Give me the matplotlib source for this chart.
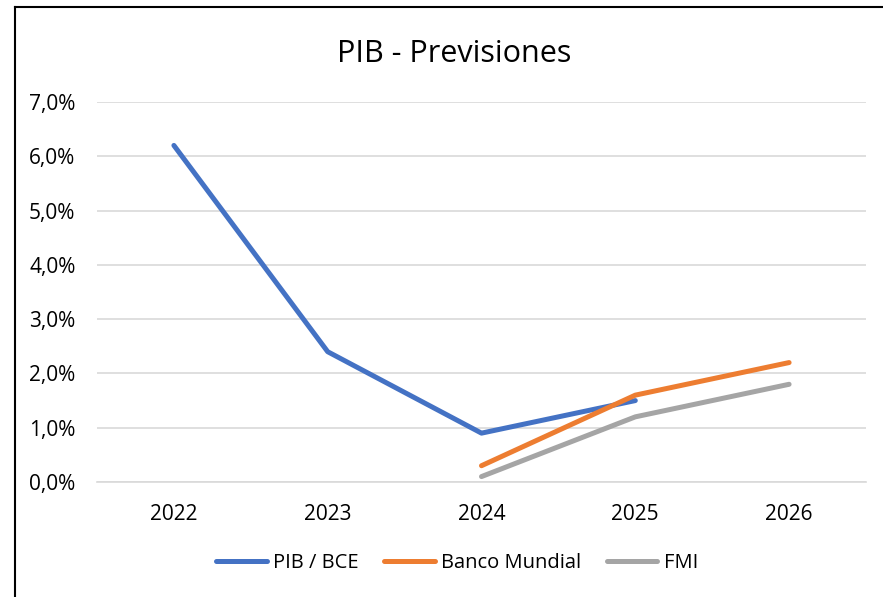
import matplotlib
matplotlib.use("Agg")
import matplotlib.pyplot as plt
from matplotlib.lines import Line2D
from matplotlib.ticker import FuncFormatter

years = ["2022", "2023", "2024", "2025", "2026"]
pib_bce = [6.2, 2.4, 0.9, 1.5]
banco_mundial = [0.3, 1.6, 2.2]
fmi = [0.1, 1.2, 1.8]

plt.rcParams["font.family"] = ["Open Sans", "DejaVu Sans"]

fig = plt.figure(figsize=(8.83, 5.97), dpi=100)
ax = fig.add_axes([97 / 883, 1 - 482 / 597, 769 / 883, 380 / 597])

x = list(range(len(years)))
style = dict(lw=3.6, solid_capstyle="round", solid_joinstyle="round")
ax.plot(x[:4], pib_bce, color="#4472C4", label="PIB / BCE", **style)
ax.plot(x[2:], banco_mundial, color="#ED7D31", label="Banco Mundial", **style)
ax.plot(x[2:], fmi, color="#A5A5A5", label="FMI", **style)

ax.set_xlim(-0.5, 4.5)
ax.set_ylim(0, 7)
ax.set_yticks(range(8))
ax.yaxis.set_major_formatter(FuncFormatter(lambda v, p: f"{v:.1f}%".replace(".", ",")))
ax.set_xticks(x)
ax.set_xticklabels(years)
ax.grid(axis="y", color="#D9D9D9", lw=1.2)
ax.set_axisbelow(True)
for s in ax.spines.values():
    s.set_visible(False)
ax.spines["bottom"].set_visible(True)
ax.spines["bottom"].set_color("#D9D9D9")
ax.spines["bottom"].set_linewidth(1.2)
ax.tick_params(length=0, labelsize=15, colors="#000000")
ax.tick_params(axis="y", pad=15.5)
ax.tick_params(axis="x", pad=16)

fig.text(454 / 883, 1 - 62 / 597, "PIB - Previsiones", ha="center", va="baseline",
         fontsize=22)

ax.legend(loc="center", bbox_to_anchor=(457 / 883, 1 - 563 / 597),
          bbox_transform=fig.transFigure, ncol=3, frameon=False, fontsize=14.5,
          handlelength=2.5, handletextpad=0.3, columnspacing=1.3,
          borderpad=0, borderaxespad=0)

# chart border (left and top visible)
fig.add_artist(Line2D([15 / 883, 15 / 883], [0, 1 - 7 / 597], color="black", lw=1.5))
fig.add_artist(Line2D([15 / 883, 1], [1 - 7 / 597, 1 - 7 / 597], color="black", lw=1.5))

fig.savefig("out.png", dpi=100)
